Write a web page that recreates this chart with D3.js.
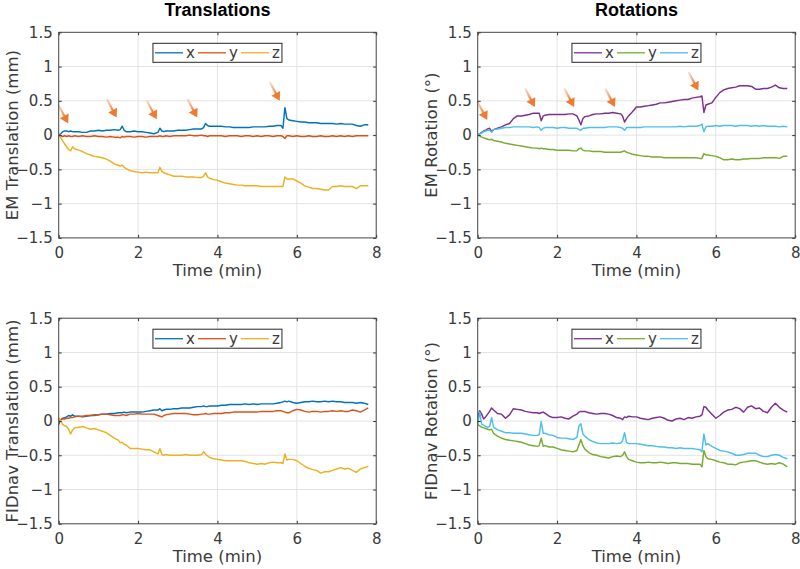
<!DOCTYPE html>
<html>
<head>
<meta charset="utf-8">
<script src="https://cdn.jsdelivr.net/npm/d3@7"></script>
<style>
  html, body { margin: 0; padding: 0; background: #fff; }
  svg { display: block; }
</style>
</head>
<body>
<svg id="chart" width="800" height="569"></svg>
<script>
// ---------------- DATA ----------------
const timeMin = [0,0.05,0.1,0.15,0.2,0.25,0.3,0.35,0.4,0.5,
  0.6,0.7,0.8,0.9,1.0,1.1,1.2,1.3,1.4,1.5,
  1.55,1.6,1.65,1.7,1.8,1.9,2.0,2.1,2.2,2.3,
  2.4,2.5,2.55,2.6,2.65,2.7,2.8,2.9,3.0,3.1,
  3.2,3.3,3.4,3.5,3.6,3.65,3.7,3.75,3.8,3.9,
  4.0,4.1,4.2,4.3,4.4,4.5,4.6,4.7,4.8,4.9,
  5.0,5.1,5.2,5.3,5.4,5.5,5.6,5.65,5.7,5.75,
  5.8,5.9,6.0,6.1,6.2,6.3,6.4,6.5,6.6,6.7,
  6.8,6.9,7.0,7.1,7.2,7.3,7.4,7.5,7.6,7.7,7.8];

const emTransX = [0.00,0.02,0.05,0.06,0.06,0.05,0.06,0.05,0.05,0.05,
  0.04,0.04,0.06,0.06,0.07,0.06,0.07,0.07,0.08,0.07,
  0.08,0.13,0.07,0.05,0.05,0.06,0.05,0.05,0.04,0.03,
  0.02,0.04,0.10,0.06,0.05,0.06,0.06,0.06,0.07,0.07,
  0.07,0.08,0.09,0.09,0.09,0.11,0.17,0.14,0.13,0.13,
  0.13,0.13,0.12,0.12,0.11,0.11,0.11,0.11,0.11,0.12,
  0.12,0.12,0.12,0.13,0.13,0.14,0.14,0.10,0.40,0.24,
  0.22,0.21,0.20,0.19,0.19,0.18,0.18,0.18,0.17,0.17,
  0.17,0.17,0.16,0.17,0.16,0.16,0.16,0.14,0.13,0.15,0.15];
const emTransY = [0.00,-0.01,-0.02,-0.01,-0.02,-0.01,-0.02,-0.02,-0.01,-0.02,
  -0.01,-0.02,-0.02,-0.01,-0.02,-0.02,-0.03,-0.02,-0.03,-0.03,
  -0.04,-0.02,-0.03,-0.02,-0.02,-0.03,-0.02,-0.02,-0.03,-0.02,
  -0.02,-0.02,-0.01,-0.02,-0.02,-0.01,-0.02,-0.01,-0.01,-0.01,
  -0.01,0.00,-0.01,-0.01,0.00,-0.01,-0.01,-0.02,-0.01,-0.01,
  -0.01,-0.01,-0.02,-0.01,-0.01,-0.01,-0.02,-0.01,-0.01,-0.02,
  -0.01,-0.02,-0.01,-0.01,-0.02,-0.01,-0.01,-0.02,-0.05,-0.01,
  -0.01,-0.02,-0.01,-0.02,-0.02,-0.01,-0.02,-0.02,-0.01,-0.02,
  -0.02,-0.01,-0.02,-0.01,-0.02,-0.01,-0.02,-0.01,-0.01,-0.01,-0.01];
const emTransZ = [0.00,-0.04,-0.08,-0.13,-0.17,-0.21,-0.23,-0.17,-0.20,-0.22,
  -0.24,-0.27,-0.29,-0.31,-0.32,-0.33,-0.35,-0.38,-0.42,-0.44,
  -0.45,-0.44,-0.47,-0.49,-0.52,-0.53,-0.54,-0.55,-0.54,-0.55,
  -0.55,-0.55,-0.47,-0.53,-0.55,-0.56,-0.58,-0.60,-0.60,-0.60,
  -0.61,-0.61,-0.61,-0.62,-0.62,-0.60,-0.55,-0.61,-0.63,-0.65,
  -0.66,-0.68,-0.70,-0.71,-0.72,-0.73,-0.73,-0.74,-0.74,-0.74,
  -0.74,-0.75,-0.75,-0.75,-0.75,-0.75,-0.75,-0.75,-0.61,-0.64,
  -0.64,-0.64,-0.67,-0.70,-0.74,-0.76,-0.78,-0.78,-0.79,-0.80,
  -0.80,-0.75,-0.75,-0.74,-0.75,-0.75,-0.75,-0.78,-0.74,-0.74,-0.74];

const emRotX = [0.00,0.02,0.04,0.06,0.07,0.09,0.10,0.05,0.08,0.10,
  0.12,0.15,0.17,0.24,0.28,0.28,0.29,0.30,0.32,0.32,
  0.32,0.21,0.28,0.29,0.30,0.30,0.30,0.30,0.30,0.31,
  0.31,0.28,0.22,0.15,0.24,0.27,0.28,0.30,0.31,0.31,
  0.32,0.32,0.33,0.32,0.31,0.28,0.19,0.24,0.28,0.34,
  0.41,0.41,0.42,0.43,0.44,0.45,0.47,0.47,0.48,0.49,
  0.50,0.51,0.52,0.52,0.54,0.55,0.56,0.57,0.33,0.44,
  0.45,0.47,0.55,0.62,0.66,0.68,0.69,0.70,0.72,0.72,
  0.72,0.71,0.67,0.67,0.68,0.68,0.70,0.73,0.69,0.68,0.68];
const emRotY = [0.00,-0.01,-0.03,-0.04,-0.05,-0.06,-0.07,-0.06,-0.08,-0.09,
  -0.10,-0.12,-0.13,-0.14,-0.15,-0.16,-0.17,-0.18,-0.19,-0.19,
  -0.20,-0.19,-0.20,-0.20,-0.21,-0.21,-0.22,-0.22,-0.22,-0.22,
  -0.23,-0.23,-0.20,-0.19,-0.22,-0.23,-0.23,-0.24,-0.24,-0.24,
  -0.25,-0.25,-0.25,-0.25,-0.25,-0.24,-0.23,-0.25,-0.26,-0.28,
  -0.29,-0.30,-0.31,-0.31,-0.32,-0.32,-0.32,-0.33,-0.33,-0.33,
  -0.33,-0.33,-0.33,-0.33,-0.33,-0.33,-0.34,-0.34,-0.27,-0.29,
  -0.29,-0.30,-0.31,-0.33,-0.36,-0.36,-0.35,-0.36,-0.36,-0.35,
  -0.35,-0.34,-0.34,-0.34,-0.33,-0.33,-0.33,-0.33,-0.34,-0.31,-0.31];
const emRotZ = [0.00,0.02,0.03,0.05,0.06,0.07,0.07,0.04,0.08,0.09,
  0.10,0.11,0.11,0.12,0.12,0.12,0.12,0.12,0.11,0.12,
  0.11,0.07,0.10,0.11,0.11,0.11,0.10,0.11,0.11,0.10,
  0.10,0.10,0.08,0.07,0.10,0.10,0.11,0.11,0.11,0.11,
  0.11,0.12,0.12,0.12,0.11,0.10,0.07,0.11,0.11,0.11,
  0.11,0.11,0.12,0.12,0.12,0.12,0.12,0.12,0.12,0.12,
  0.12,0.13,0.12,0.13,0.13,0.13,0.14,0.16,0.05,0.12,
  0.13,0.13,0.14,0.13,0.14,0.14,0.14,0.13,0.14,0.14,
  0.14,0.13,0.14,0.13,0.14,0.13,0.13,0.13,0.12,0.13,0.12];

const fidTransX = [-0.05,0.02,0.04,0.05,0.06,0.08,0.07,0.09,0.07,0.07,
  0.06,0.07,0.08,0.08,0.09,0.10,0.10,0.11,0.11,0.12,
  0.12,0.12,0.13,0.12,0.13,0.13,0.13,0.13,0.14,0.15,
  0.16,0.16,0.18,0.15,0.16,0.17,0.17,0.18,0.18,0.19,
  0.19,0.19,0.20,0.21,0.21,0.22,0.21,0.21,0.22,0.22,
  0.22,0.23,0.23,0.24,0.24,0.24,0.24,0.25,0.24,0.25,
  0.24,0.25,0.25,0.25,0.25,0.26,0.27,0.28,0.29,0.28,
  0.29,0.27,0.26,0.27,0.28,0.28,0.29,0.28,0.28,0.29,
  0.28,0.29,0.28,0.28,0.27,0.27,0.27,0.26,0.27,0.26,0.24];
const fidTransY = [0.01,0.02,0.03,0.03,0.04,0.04,0.05,0.05,0.06,0.07,
  0.07,0.08,0.08,0.09,0.09,0.10,0.10,0.09,0.08,0.08,
  0.08,0.09,0.09,0.08,0.10,0.10,0.11,0.10,0.10,0.10,
  0.10,0.08,0.07,0.06,0.08,0.09,0.10,0.11,0.11,0.11,
  0.11,0.10,0.09,0.09,0.10,0.10,0.11,0.10,0.10,0.11,
  0.11,0.11,0.12,0.12,0.13,0.13,0.13,0.13,0.13,0.13,
  0.13,0.14,0.14,0.14,0.14,0.15,0.15,0.14,0.13,0.12,
  0.12,0.15,0.17,0.16,0.14,0.13,0.14,0.14,0.13,0.14,
  0.14,0.15,0.14,0.15,0.14,0.14,0.16,0.15,0.13,0.16,0.19];
const fidTransZ = [0.05,0.00,-0.05,-0.07,-0.08,-0.12,-0.19,-0.13,-0.10,-0.09,
  -0.08,-0.10,-0.12,-0.11,-0.13,-0.15,-0.17,-0.21,-0.25,-0.28,
  -0.32,-0.31,-0.34,-0.35,-0.40,-0.40,-0.40,-0.41,-0.42,-0.42,
  -0.45,-0.48,-0.40,-0.49,-0.50,-0.49,-0.50,-0.50,-0.50,-0.50,
  -0.49,-0.50,-0.50,-0.50,-0.49,-0.45,-0.48,-0.51,-0.53,-0.55,
  -0.56,-0.57,-0.58,-0.58,-0.58,-0.58,-0.58,-0.59,-0.61,-0.62,
  -0.63,-0.62,-0.63,-0.61,-0.60,-0.61,-0.61,-0.62,-0.48,-0.57,
  -0.56,-0.56,-0.58,-0.62,-0.66,-0.69,-0.71,-0.72,-0.76,-0.74,
  -0.74,-0.72,-0.70,-0.68,-0.70,-0.69,-0.72,-0.75,-0.70,-0.68,-0.66];

const fidRotX = [0.05,0.15,0.10,0.03,0.06,0.10,0.14,0.19,0.16,0.11,
  0.10,0.04,0.09,0.18,0.17,0.16,0.14,0.13,0.12,0.12,
  0.11,0.12,0.13,0.11,0.07,0.05,0.05,0.06,0.04,0.03,
  0.07,0.10,0.13,0.14,0.14,0.14,0.12,0.11,0.10,0.11,
  0.11,0.10,0.08,0.05,0.04,0.02,0.06,0.05,0.07,0.06,
  0.06,0.04,0.03,0.02,0.04,0.05,0.06,0.04,0.01,0.00,
  0.03,0.04,0.02,0.05,0.04,0.06,0.07,0.09,0.21,0.20,
  0.16,0.10,0.04,0.08,0.13,0.16,0.17,0.20,0.18,0.13,
  0.20,0.22,0.18,0.19,0.14,0.12,0.20,0.26,0.20,0.16,0.13];
const fidRotY = [-0.05,-0.07,-0.09,-0.10,-0.11,-0.12,-0.13,-0.12,-0.18,-0.22,
  -0.25,-0.27,-0.28,-0.29,-0.30,-0.31,-0.33,-0.35,-0.36,-0.37,
  -0.36,-0.25,-0.37,-0.36,-0.38,-0.38,-0.40,-0.42,-0.43,-0.44,
  -0.45,-0.43,-0.35,-0.27,-0.36,-0.41,-0.46,-0.49,-0.50,-0.52,
  -0.53,-0.54,-0.52,-0.51,-0.52,-0.50,-0.45,-0.52,-0.56,-0.58,
  -0.60,-0.61,-0.61,-0.60,-0.61,-0.61,-0.60,-0.61,-0.62,-0.61,
  -0.61,-0.62,-0.62,-0.62,-0.63,-0.63,-0.63,-0.67,-0.43,-0.52,
  -0.55,-0.56,-0.58,-0.60,-0.61,-0.63,-0.63,-0.64,-0.61,-0.60,
  -0.59,-0.58,-0.58,-0.60,-0.62,-0.63,-0.62,-0.63,-0.61,-0.63,-0.67];
const fidRotZ = [-0.05,0.13,-0.05,-0.06,-0.08,-0.09,-0.08,0.05,-0.09,-0.13,
  -0.15,-0.17,-0.17,-0.18,-0.18,-0.18,-0.19,-0.20,-0.21,-0.21,
  -0.20,-0.01,-0.18,-0.18,-0.20,-0.21,-0.24,-0.25,-0.25,-0.26,
  -0.27,-0.24,-0.07,-0.04,-0.19,-0.22,-0.27,-0.30,-0.32,-0.33,
  -0.33,-0.33,-0.32,-0.33,-0.32,-0.29,-0.17,-0.31,-0.33,-0.33,
  -0.33,-0.34,-0.35,-0.36,-0.36,-0.37,-0.38,-0.38,-0.39,-0.39,
  -0.40,-0.39,-0.40,-0.40,-0.40,-0.41,-0.42,-0.45,-0.19,-0.35,
  -0.33,-0.37,-0.40,-0.43,-0.44,-0.45,-0.47,-0.50,-0.50,-0.49,
  -0.47,-0.47,-0.47,-0.50,-0.52,-0.52,-0.50,-0.49,-0.50,-0.53,-0.55];

// arrow tips (time, value) marking events in the EM panels
const emTransArrows = [[0.24,0.17],[1.46,0.255],[2.47,0.23],[3.49,0.255],[5.57,0.50]];
const emRotArrows   = [[0.24,0.22],[1.44,0.41],[2.43,0.41],[3.46,0.41],[5.56,0.65]];

const seriesNames = ["x", "y", "z"];
const transColors = ["#0072BD", "#D95319", "#EDB120"];
const rotColors   = ["#7E2F8E", "#77AC30", "#4DBEEE"];
const xTicks = [0, 2, 4, 6, 8];
const yTicks = [-1.5, -1, -0.5, 0, 0.5, 1, 1.5];
const columnTitles = ["Translations", "Rotations"];
const yLabels = ["EM Translation (mm)", "EM Rotation (°)", "FIDnav Translation (mm)", "FIDnav Rotation (°)"];
const xLabel = "Time (min)";

// ---------------- LAYOUT ----------------
const svg = d3.select("#chart");
const plotW = 317.5, plotH = 205.6;
const panels = [
  { left: 58.7,  top: 32.3,  label: yLabels[0], series: [emTransX, emTransY, emTransZ], colors: transColors, arrows: emTransArrows },
  { left: 477.7, top: 32.3,  label: yLabels[1], series: [emRotX, emRotY, emRotZ],       colors: rotColors,   arrows: emRotArrows },
  { left: 58.7,  top: 318.2, label: yLabels[2], series: [fidTransX, fidTransY, fidTransZ], colors: transColors, arrows: [] },
  { left: 477.7, top: 318.2, label: yLabels[3], series: [fidRotX, fidRotY, fidRotZ],    colors: rotColors,   arrows: [] }
];

const tickFont = "'DejaVu Sans', sans-serif";
const textColor = "#3a3a3a";
const defs = svg.append("defs");
const grad = defs.append("linearGradient").attr("id", "arrowGrad")
  .attr("x1", 0).attr("y1", 0).attr("x2", 1).attr("y2", 1);
grad.append("stop").attr("offset", "0%").attr("stop-color", "#F4A07A").attr("stop-opacity", 0.35);
grad.append("stop").attr("offset", "100%").attr("stop-color", "#EE7B30").attr("stop-opacity", 1);

// column titles
columnTitles.forEach((t, i) => {
  const p = panels[i];
  svg.append("text")
    .attr("x", p.left + plotW / 2).attr("y", 16)
    .attr("text-anchor", "middle")
    .style("font-family", "'Liberation Sans', Arial, sans-serif")
    .style("font-weight", "bold").style("font-size", "18px").style("fill", "#000")
    .text(t);
});

panels.forEach((p, pi) => {
  const g = svg.append("g").attr("transform", `translate(${p.left},${p.top})`);
  const x = d3.scaleLinear().domain([0, 8]).range([0, plotW]);
  const y = d3.scaleLinear().domain([-1.5, 1.5]).range([plotH, 0]);

  g.append("rect").attr("width", plotW).attr("height", plotH).attr("fill", "#fff");

  // grid
  g.append("g").selectAll("line").data(xTicks.slice(1, -1)).join("line")
    .attr("x1", d => x(d)).attr("x2", d => x(d)).attr("y1", 0).attr("y2", plotH)
    .attr("stroke", "#e3e3e3").attr("stroke-width", 1);
  g.append("g").selectAll("line").data(yTicks.slice(1, -1)).join("line")
    .attr("y1", d => y(d)).attr("y2", d => y(d)).attr("x1", 0).attr("x2", plotW)
    .attr("stroke", "#e3e3e3").attr("stroke-width", 1);

  // lines
  const clipId = "clip" + pi;
  defs.append("clipPath").attr("id", clipId).append("rect").attr("width", plotW).attr("height", plotH);
  const lineGen = d3.line().x((d, i) => x(timeMin[i])).y(d => y(d));
  const lg = g.append("g").attr("clip-path", `url(#${clipId})`);
  p.series.forEach((s, si) => {
    lg.append("path").datum(s).attr("d", lineGen)
      .attr("fill", "none").attr("stroke", p.colors[si]).attr("stroke-width", 1.45)
      .attr("stroke-linejoin", "round");
  });

  // arrows
  const ux = 9 / Math.hypot(9, 17), uy = 17 / Math.hypot(9, 17);
  p.arrows.forEach(a => {
    const tx = x(a[0]), ty = y(a[1]);
    const headL = 8.5, headW = 5, totalL = 21;
    const bx = tx - headL * ux, by = ty - headL * uy;
    const sx = tx - totalL * ux, sy = ty - totalL * uy;
    g.append("line").attr("x1", sx).attr("y1", sy).attr("x2", bx + ux).attr("y2", by + uy)
      .attr("stroke", "url(#arrowGrad)").attr("stroke-width", 2.2);
    g.append("path")
      .attr("d", `M${tx},${ty}L${bx - headW * uy},${by + headW * ux}L${bx + headW * uy},${by - headW * ux}Z`)
      .attr("fill", "#EE7B30");
  });

  // axes with inward ticks
  const axB = d3.axisBottom(x).tickValues(xTicks).tickSize(-3).tickSizeOuter(0).tickPadding(9.5);
  const axL = d3.axisLeft(y).tickValues(yTicks).tickSize(-3).tickSizeOuter(0).tickPadding(6).tickFormat(d3.format("~g"));
  const axT = d3.axisTop(x).tickValues(xTicks).tickSize(-3).tickSizeOuter(0).tickFormat("");
  const axR = d3.axisRight(y).tickValues(yTicks).tickSize(-3).tickSizeOuter(0).tickFormat("");

  const styleAxis = sel => {
    sel.select(".domain").remove();
    sel.selectAll(".tick line").attr("stroke", "#333");
    sel.selectAll(".tick text").style("font-family", tickFont).style("font-size", "15px").attr("fill", textColor);
  };
  g.append("g").attr("transform", `translate(0,${plotH})`).call(axB).call(styleAxis);
  g.append("g").call(axL).call(styleAxis);
  g.append("g").call(axT).call(styleAxis);
  g.append("g").attr("transform", `translate(${plotW},0)`).call(axR).call(styleAxis);

  g.append("rect").attr("width", plotW).attr("height", plotH)
    .attr("fill", "none").attr("stroke", "#444").attr("stroke-width", 1);

  // axis labels
  g.append("text")
    .attr("x", plotW / 2).attr("y", plotH + 38)
    .attr("text-anchor", "middle")
    .style("font-family", tickFont).style("font-size", "16.5px").attr("fill", textColor)
    .text(xLabel);
  g.append("text")
    .attr("transform", `translate(${-41},${plotH / 2}) rotate(-90)`)
    .attr("text-anchor", "middle")
    .style("font-family", tickFont).style("font-size", "16.5px").attr("fill", textColor)
    .text(p.label);

  // legend
  const legW = 129, legH = 19;
  const leg = g.append("g").attr("transform", `translate(${plotW / 2 - legW / 2},11)`);
  leg.append("rect").attr("width", legW).attr("height", legH)
    .attr("fill", "#fff").attr("stroke", "#262626").attr("stroke-width", 1);
  seriesNames.forEach((n, i) => {
    const ex = 2 + i * 43;
    leg.append("line").attr("x1", ex).attr("x2", ex + 28).attr("y1", legH / 2).attr("y2", legH / 2)
      .attr("stroke", p.colors[i]).attr("stroke-width", 1.3);
    leg.append("text").attr("x", ex + 31).attr("y", legH / 2).attr("dy", "0.35em")
      .style("font-family", tickFont).style("font-size", "15px").attr("fill", textColor)
      .text(n);
  });
});
</script>
</body>
</html>
